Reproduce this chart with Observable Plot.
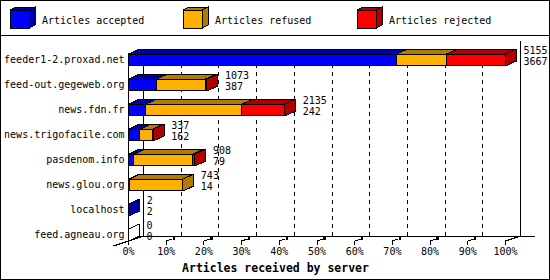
<!DOCTYPE html>
<html><head><meta charset="utf-8">
<script src="https://cdn.jsdelivr.net/npm/d3@7"></script>
<script src="https://cdn.jsdelivr.net/npm/@observablehq/plot@0.6"></script>
<style>
body{margin:0;background:#fff}
#wrap{width:548px;height:278px;border:1px solid #000;background:#fff;overflow:hidden}
#legend{height:34px;border-bottom:1px solid #000}
#legend svg,#chart svg{display:block}
</style></head><body>
<div id="wrap"><div id="legend"></div><div id="chart"></div></div>
<script>
// ---- data ----
const servers = ["feeder1-2.proxad.net","feed-out.gegeweb.org","news.fdn.fr","news.trigofacile.com","pasdenom.info","news.glou.org","localhost","feed.agneau.org"];
const accepted = [3667, 387, 242, 162, 79, 14, 2, 0];
const refused  = [683, 668, 1315, 172, 799, 729, 0, 0];
const rejected = [805, 18, 578, 3, 30, 0, 0, 0];
const totals   = [5155, 1073, 2135, 337, 908, 743, 2, 0];
const seriesNames = ["Articles accepted","Articles refused","Articles rejected"];
const tickLabels = ["0%","10%","20%","30%","40%","50%","60%","70%","80%","90%","100%"];
const xTitle = "Articles received by server";

// ---- style ----
const colors = ["#0000ff","#ffb000","#ff0000"];
const darks  = ["#0000a8","#b07c00","#b00000"];
const FONT = "DejaVu Sans Mono";

// ---- legend ----
(function(){
  const svg = d3.select("#legend").append("svg").attr("width",548).attr("height",34)
    .style("shape-rendering","crispEdges");
  const bx = [9,182,356], bw = 19, bh = 18, by = 9, ddx = 6, ddy = 3;
  seriesNames.forEach((name,k)=>{
    const x = bx[k];
    const g = svg.append("g").attr("stroke","#000").attr("stroke-width",1);
    g.append("polygon").attr("fill",darks[k]).attr("points",[[x,by],[x+bw,by],[x+bw+ddx,by-ddy],[x+ddx,by-ddy]].join(" "));
    g.append("polygon").attr("fill",darks[k]).attr("points",[[x+bw,by],[x+bw+ddx,by-ddy],[x+bw+ddx,by+bh-ddy],[x+bw,by+bh]].join(" "));
    g.append("rect").attr("x",x).attr("y",by).attr("width",bw).attr("height",bh).attr("fill",colors[k]);
    svg.append("text").attr("x",x+32).attr("y",19).attr("dy","0.35em")
      .attr("font-family",FONT).attr("font-size",10).text(name);
  });
})();

// ---- chart ----
const W = 548, H = 243, ML = 127, MR = 44;
const Y0 = 23.5, ROW = 25, HALF = 6, DX = 11, DY = 5, WALL_DX = 15, WALL_DY = 5;
const maxTotal = d3.max(totals);
const plotW = W - ML - MR;
const px = p => p * maxTotal / plotW;
const py = p => p / ROW;
const last = servers.length - 1;
const floorRow = last + py(HALF);
const topRow = -py(HALF);
const series = [accepted, refused, rejected];

const fronts = [], verts = [];
let pid = 0;
function poly(fill, pts){
  const id = pid++;
  pts.concat([pts[0]]).forEach(([x,y]) => verts.push({x, y, id, fill}));
}
servers.forEach((s,i)=>{
  let x = 0, lastK = -1;
  const yt = i - py(HALF), yb = i + py(HALF), yback = i - py(HALF + DY);
  series.forEach((vals,k)=>{
    const v = vals[i];
    if (v > 0) {
      fronts.push({x1: x, x2: x + v, y1: yt, y2: yb, fill: colors[k]});
      poly(darks[k], [[x,yt],[x+v,yt],[x+v+px(DX),yback],[x+px(DX),yback]]);
      lastK = k; x += v;
    }
  });
  poly(lastK < 0 ? "#ffffff" : darks[lastK],
    [[x,yt],[x+px(DX),yback],[x+px(DX),i+py(HALF-DY)],[x,yb]]);
});

const gridVals = d3.range(1,10).map(k => k*maxTotal/10);
const tickVals = d3.range(0,11).map(k => k*maxTotal/10);
const C = v => () => v;

const chart = Plot.plot({
  width: W, height: H, marginLeft: ML, marginRight: MR, marginTop: 0, marginBottom: 0,
  x: {domain: [0, maxTotal], axis: null},
  y: {type: "linear", domain: [0, last], range: [Y0, Y0 + last*ROW], axis: null},
  color: {type: "identity"},
  style: {fontFamily: FONT, fontSize: "10px", background: "white", shapeRendering: "crispEdges", color: "black"},
  marks: [
    Plot.ruleX(gridVals, {x: d=>d, y1: C(floorRow), y2: C(topRow), dx: WALL_DX, dy: -WALL_DY, stroke: "#000", strokeDasharray: "4,4"}),
    Plot.ruleX([0, maxTotal], {x: d=>d, y1: C(floorRow), y2: C(topRow), dx: WALL_DX, dy: -WALL_DY, stroke: "#000"}),
    Plot.ruleX([maxTotal], {x: d=>d, y1: C(floorRow), y2: C(topRow - py(8)), dx: WALL_DX, dy: -WALL_DY, stroke: "#000"}),
    Plot.ruleY([floorRow], {y: d=>d, x1: C(0), x2: C(maxTotal + px(WALL_DX)), dx: WALL_DX, dy: -WALL_DY, stroke: "#000"}),
    Plot.ruleX([0], {x: d=>d, y1: C(floorRow), y2: C(topRow), stroke: "#000"}),
    Plot.link([0], {x1: C(-px(WALL_DX)), y1: C(floorRow + py(WALL_DY)), x2: C(px(WALL_DX)), y2: C(floorRow - py(WALL_DY)), stroke: "#000"}),
    Plot.link([maxTotal], {x1: d=>d, y1: C(floorRow), x2: d=>d + px(WALL_DX), y2: C(floorRow - py(WALL_DY)), stroke: "#000"}),
    Plot.link(gridVals, {x1: d=>d, y1: C(floorRow), x2: d=>d + px(6), y2: C(floorRow - py(2)), stroke: "#000"}),
    Plot.dot(gridVals, {x: d=>d + px(7.5), y: C(floorRow - py(2.5)), symbol: "square", r: 1.3, fill: "#000", stroke: "none"}),
    Plot.ruleX(tickVals, {x: d=>d, y1: C(floorRow), y2: C(floorRow + py(4)), stroke: "#000"}),
    Plot.text(tickVals, {x: d=>d, y: C(floorRow), dy: 11, text: (d,i)=>tickLabels[i], fontFamily: FONT, fontSize: 10}),
    Plot.rect(fronts, {x1: "x1", x2: "x2", y1: "y1", y2: "y2", fill: "fill", stroke: "#000", strokeWidth: 1}),
    Plot.line(verts, {x: "x", y: "y", z: "id", fill: "fill", stroke: "#000", strokeWidth: 1, curve: "linear", strokeLinejoin: "miter"}),
    Plot.text(servers, {x: C(0), y: (d,i)=>i, text: d=>d, textAnchor: "end", dx: -4, fontFamily: FONT, fontSize: 10}),
    Plot.text(totals, {x: d=>d, y: (d,i)=>i, text: d=>String(d), textAnchor: "start", dx: DX + 7, dy: -9.5, fontFamily: FONT, fontSize: 10}),
    Plot.text(accepted, {x: (d,i)=>totals[i], y: (d,i)=>i, text: d=>String(d), textAnchor: "start", dx: DX + 7, dy: 2, fontFamily: FONT, fontSize: 10}),
    Plot.text([xTitle], {x: C(px(W/2 - ML)), y: C(floorRow), dy: 27, text: d=>d, fontFamily: FONT, fontSize: 11.5, fontWeight: "bold"})
  ]
});
document.getElementById("chart").appendChild(chart);
</script>
</body></html>
